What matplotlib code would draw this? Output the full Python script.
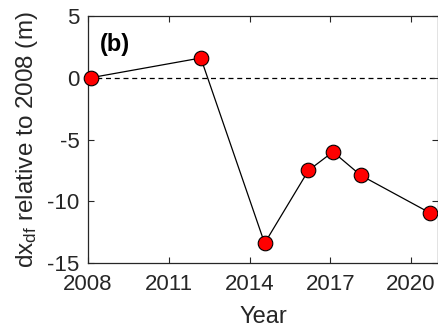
import matplotlib
matplotlib.use("Agg")
import matplotlib.pyplot as plt

plt.rcParams['font.family'] = ['Liberation Sans', 'DejaVu Sans']
plt.rcParams['mathtext.fontset'] = 'custom'
plt.rcParams['mathtext.rm'] = 'Liberation Sans'
plt.rcParams['mathtext.it'] = 'Liberation Sans'
plt.rcParams['mathtext.bf'] = 'Liberation Sans:bold'
plt.rcParams['axes.unicode_minus'] = False

years = [2008.1, 2012.19, 2014.56, 2016.19, 2017.1, 2018.13, 2020.69]
dx = [0.0, 1.6, -13.4, -7.5, -6.0, -7.9, -10.93]
xticks = [2008, 2011, 2014, 2017, 2020]
yticks = [-15, -10, -5, 0, 5]

fig = plt.figure(figsize=(4.39, 3.27), dpi=100)
ax = fig.add_axes([88/439, 64/327, 350/439, 247/327])

ax.axhline(0, color='black', linestyle=(0, (4, 3)), linewidth=0.9, zorder=1)
ax.plot(years, dx, color='black', linewidth=0.9, marker='o', markersize=10.5,
        markerfacecolor='#ff0000', markeredgecolor='black', markeredgewidth=0.8,
        zorder=3, clip_on=False)

ax.set_xlim(2008, 2021)
ax.set_ylim(-15, 5)
ax.set_xticks(xticks)
ax.set_yticks(yticks)
ax.tick_params(direction='in', length=4, width=0.8, labelsize=16, colors='#262626',
               top=True, right=True)
ax.tick_params(axis='x', pad=8)
ax.tick_params(axis='y', pad=6)
for s in ax.spines.values():
    s.set_color('#262626')
    s.set_linewidth(0.9)

ax.set_xlabel('Year', fontsize=17, color='#262626', labelpad=8)
ax.set_ylabel('dx$_{df}$ relative to 2008 (m)', fontsize=17.5, color='#262626', labelpad=5)
ax.text(0.035, 0.883, '(b)', transform=ax.transAxes, fontsize=17, fontweight='bold',
        va='center', ha='left', color='black')

fig.savefig('out.png', dpi=100)
